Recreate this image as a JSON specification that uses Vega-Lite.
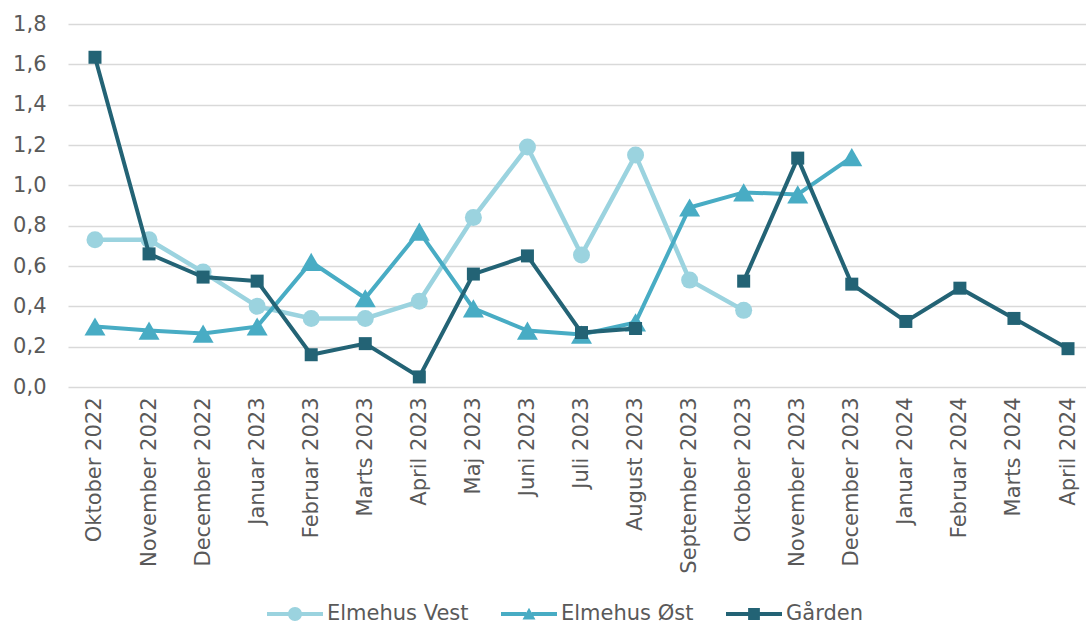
{
  "$schema": "https://vega.github.io/schema/vega-lite/v6.json",
  "autosize": {"type": "none"},
  "padding": {"left": 68, "top": 24, "right": 0, "bottom": 239},
  "width": 1018,
  "height": 363,
  "background": "white",
  "config": {
    "view": {"stroke": null},
    "font": "DejaVu Sans",
    "axis": {"labelFont": "DejaVu Sans", "labelFontSize": 21, "labelColor": "#595959", "ticks": false, "domain": false, "title": null},
    "legend": {"labelFont": "DejaVu Sans", "labelFontSize": 21, "labelColor": "#595959"}
  },
  "resolve": {"legend": {"color": "independent", "shape": "independent"}},
  "data": {
    "values": [
      {"month": "Oktober 2022", "series": "Elmehus Vest", "value": 0.73},
      {"month": "November 2022", "series": "Elmehus Vest", "value": 0.73},
      {"month": "December 2022", "series": "Elmehus Vest", "value": 0.57},
      {"month": "Januar 2023", "series": "Elmehus Vest", "value": 0.40},
      {"month": "Februar 2023", "series": "Elmehus Vest", "value": 0.34},
      {"month": "Marts 2023", "series": "Elmehus Vest", "value": 0.34},
      {"month": "April 2023", "series": "Elmehus Vest", "value": 0.425},
      {"month": "Maj 2023", "series": "Elmehus Vest", "value": 0.84},
      {"month": "Juni 2023", "series": "Elmehus Vest", "value": 1.19},
      {"month": "Juli 2023", "series": "Elmehus Vest", "value": 0.655},
      {"month": "August 2023", "series": "Elmehus Vest", "value": 1.15},
      {"month": "September 2023", "series": "Elmehus Vest", "value": 0.53},
      {"month": "Oktober 2023", "series": "Elmehus Vest", "value": 0.38},
      {"month": "Oktober 2022", "series": "Elmehus Øst", "value": 0.30},
      {"month": "November 2022", "series": "Elmehus Øst", "value": 0.28},
      {"month": "December 2022", "series": "Elmehus Øst", "value": 0.265},
      {"month": "Januar 2023", "series": "Elmehus Øst", "value": 0.30},
      {"month": "Februar 2023", "series": "Elmehus Øst", "value": 0.62},
      {"month": "Marts 2023", "series": "Elmehus Øst", "value": 0.44},
      {"month": "April 2023", "series": "Elmehus Øst", "value": 0.77},
      {"month": "Maj 2023", "series": "Elmehus Øst", "value": 0.39},
      {"month": "Juni 2023", "series": "Elmehus Øst", "value": 0.28},
      {"month": "Juli 2023", "series": "Elmehus Øst", "value": 0.26},
      {"month": "August 2023", "series": "Elmehus Øst", "value": 0.32},
      {"month": "September 2023", "series": "Elmehus Øst", "value": 0.89},
      {"month": "Oktober 2023", "series": "Elmehus Øst", "value": 0.965},
      {"month": "November 2023", "series": "Elmehus Øst", "value": 0.955},
      {"month": "December 2023", "series": "Elmehus Øst", "value": 1.14},
      {"month": "Oktober 2022", "series": "Gården", "value": 1.635},
      {"month": "November 2022", "series": "Gården", "value": 0.66},
      {"month": "December 2022", "series": "Gården", "value": 0.545},
      {"month": "Januar 2023", "series": "Gården", "value": 0.525},
      {"month": "Februar 2023", "series": "Gården", "value": 0.16},
      {"month": "Marts 2023", "series": "Gården", "value": 0.215},
      {"month": "April 2023", "series": "Gården", "value": 0.05},
      {"month": "Maj 2023", "series": "Gården", "value": 0.56},
      {"month": "Juni 2023", "series": "Gården", "value": 0.65},
      {"month": "Juli 2023", "series": "Gården", "value": 0.27},
      {"month": "August 2023", "series": "Gården", "value": 0.29},
      {"month": "September 2023", "series": "Gården", "value": null},
      {"month": "Oktober 2023", "series": "Gården", "value": 0.525},
      {"month": "November 2023", "series": "Gården", "value": 1.135},
      {"month": "December 2023", "series": "Gården", "value": 0.51},
      {"month": "Januar 2024", "series": "Gården", "value": 0.325},
      {"month": "Februar 2024", "series": "Gården", "value": 0.49},
      {"month": "Marts 2024", "series": "Gården", "value": 0.34},
      {"month": "April 2024", "series": "Gården", "value": 0.19}
    ]
  },
  "encoding": {
    "x": {
      "field": "month", "type": "ordinal",
      "scale": {"type": "point", "padding": 0.416, "align": 0.6,
        "domain": ["Oktober 2022","November 2022","December 2022","Januar 2023","Februar 2023","Marts 2023","April 2023","Maj 2023","Juni 2023","Juli 2023","August 2023","September 2023","Oktober 2023","November 2023","December 2023","Januar 2024","Februar 2024","Marts 2024","April 2024"]},
      "axis": {"labelAngle": -90, "labelPadding": 10, "grid": false, "labelAlign": "right", "labelBaseline": "middle"}
    },
    "y": {
      "field": "value", "type": "quantitative",
      "scale": {"domain": [0, 1.8], "nice": false, "zero": true},
      "axis": {"values": [0, 0.2, 0.4, 0.6, 0.8, 1.0, 1.2, 1.4, 1.6, 1.8], "labelExpr": "replace(format(datum.value, '.1f'), '.', ',')", "labelPadding": 22, "grid": true, "gridColor": "#d9d9d9", "gridWidth": 1.5}
    },
    "color": {
      "field": "series", "type": "nominal",
      "scale": {"domain": ["Elmehus Vest", "Elmehus Øst", "Gården"], "range": ["#9BD3DF", "#48ACC4", "#236375"]},
      "legend": null
    }
  },
  "layer": [
    {
      "transform": [{"filter": "datum.series === 'Elmehus Vest'"}],
      "mark": {"type": "line", "strokeWidth": 4.5, "invalid": "break-paths-show-domains",
        "point": {"filled": true, "shape": "circle", "size": 289, "opacity": 1}}
    },
    {
      "transform": [{"filter": "datum.series === 'Elmehus Øst'"}],
      "mark": {"type": "line", "strokeWidth": 4, "invalid": "break-paths-show-domains",
        "point": {"filled": true, "shape": "triangle-up", "size": 441, "opacity": 1}}
    },
    {
      "transform": [{"filter": "datum.series === 'Gården'"}],
      "mark": {"type": "line", "strokeWidth": 4, "invalid": "break-paths-show-domains",
        "point": {"filled": true, "shape": "square", "size": 169, "opacity": 1}}
    },
    {
      "transform": [{"filter": "false"}],
      "mark": {"type": "point", "filled": true, "opacity": 1},
      "encoding": {
        "x": null,
        "y": null,
        "color": {
          "field": "series", "type": "nominal",
          "scale": {"domain": ["Elmehus Vest", "Elmehus Øst", "Gården"], "range": ["#9BD3DF", "#48ACC4", "#236375"]},
          "legend": {"title": null, "orient": "none", "legendX": 199, "legendY": 562, "direction": "horizontal", "symbolSize": 3136, "symbolStrokeWidth": 0, "symbolOpacity": 1, "labelOffset": 4, "columnPadding": 32, "padding": 0}
        },
        "shape": {
          "field": "series", "type": "nominal",
          "scale": {"domain": ["Elmehus Vest", "Elmehus Øst", "Gården"], "range": [
            "M -1 -0.075 L -0.2 -0.075 L -0.2 0.075 L -1 0.075 Z M 0.2 -0.075 L 1 -0.075 L 1 0.075 L 0.2 0.075 Z M -0.25 0 A 0.25 0.25 0 1 1 0.25 0 A 0.25 0.25 0 1 1 -0.25 0 Z",
            "M -1 -0.07 L -0.1 -0.07 L -0.1 0.07 L -1 0.07 Z M 0.1 -0.07 L 1 -0.07 L 1 0.07 L 0.1 0.07 Z M 0 -0.22 L 0.23 0.2 L -0.23 0.2 Z",
            "M -1 -0.07 L -0.2 -0.07 L -0.2 0.07 L -1 0.07 Z M 0.2 -0.07 L 1 -0.07 L 1 0.07 L 0.2 0.07 Z M -0.21 -0.21 L 0.21 -0.21 L 0.21 0.21 L -0.21 0.21 Z"
          ]},
          "legend": {"title": null, "orient": "none", "legendX": 199, "legendY": 562, "direction": "horizontal", "symbolSize": 3136, "symbolStrokeWidth": 0, "symbolOpacity": 1, "labelOffset": 4, "columnPadding": 32, "padding": 0}
        }
      }
    }
  ]
}
